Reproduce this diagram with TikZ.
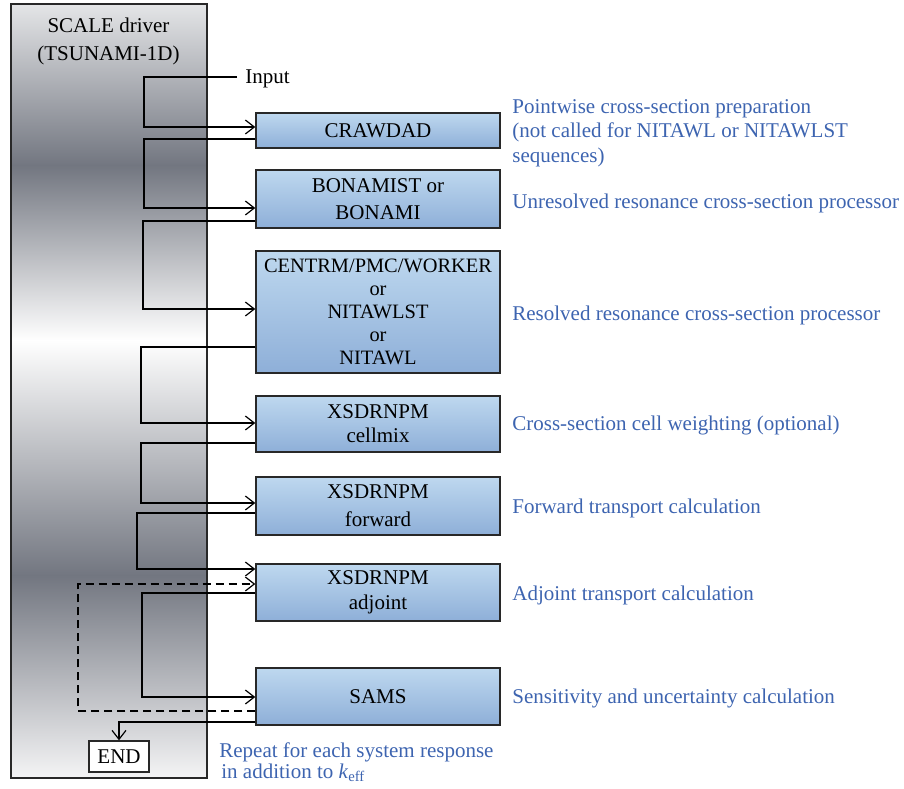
\documentclass[tikz,border=0pt]{standalone}
\usepackage{fontspec}
\setmainfont{Liberation Serif}
\usetikzlibrary{arrows.meta}
\definecolor{descblue}{RGB}{61,100,176}
\definecolor{boxtop}{RGB}{190,216,239}
\definecolor{boxbot}{RGB}{142,175,216}
\definecolor{drvdark}{RGB}{114,118,128}
\definecolor{drvtop}{RGB}{228,229,231}
\definecolor{drvbot}{RGB}{244,244,245}
\definecolor{edge}{RGB}{40,40,40}
\begin{document}
\begin{tikzpicture}[x=0.5pt,y=-0.5pt,
  stepbox/.style={draw=edge, line width=0.7pt, top color=boxtop, bottom color=boxbot,
    minimum width=122pt, inner sep=0pt, align=center},
  wire/.style={line width=0.6pt, draw=black},
  arr/.style={wire, -{Straight Barb[length=4.5pt,width=7pt,line width=0.6pt]}},
  desc/.style={anchor=base west, inner sep=0pt, text=descblue, font=\fontsize{10.5}{12}\selectfont},
  plain/.style={anchor=base, inner sep=0pt, font=\fontsize{10.5}{12}\selectfont}
]
\useasboundingbox (0,0) rectangle (904,788);

% driver background shading
\shade[top color=drvtop, bottom color=drvdark] (11,4) rectangle (207,166);
\shade[top color=drvdark, bottom color=white] (11,165) rectangle (207,341);
\shade[top color=white, bottom color=drvdark] (11,340) rectangle (207,576);
\shade[top color=drvdark, bottom color=drvbot] (11,575) rectangle (207,778);

\node[draw=edge, line width=0.7pt, minimum width=98pt, minimum height=387pt, inner sep=0pt] (driver) at (109,391) {};
\node[plain] (drv1) at (108.5,32) {SCALE driver};
\node[plain] (drv2) at (108.5,60) {(TSUNAMI-1D)};

% process boxes
\node[stepbox, minimum height=17.5pt, font=\fontsize{10.5}{12}\selectfont] (crawdad) at (378,130.5) {CRAWDAD};
\node[stepbox, minimum height=29pt, font=\fontsize{10.5}{13.5}\selectfont] (bon) at (378,199) {BONAMIST or\\BONAMI};
\node[stepbox, minimum height=61pt, font=\fontsize{10.2}{11.5}\selectfont] (centrm) at (378,312) {CENTRM/PMC/WORKER\\or\\NITAWLST\\or\\NITAWL};
\node[stepbox, minimum height=28pt, font=\fontsize{10.5}{12}\selectfont] (cellmix) at (378,424) {XSDRNPM\\cellmix};
\node[stepbox, minimum height=29pt, font=\fontsize{10.5}{14}\selectfont] (fwd) at (378,506) {XSDRNPM\\forward};
\node[stepbox, minimum height=28.5pt, font=\fontsize{10.5}{12.5}\selectfont] (adj) at (378,592.5) {XSDRNPM\\adjoint};
\node[stepbox, minimum height=28.5pt, font=\fontsize{10.5}{12}\selectfont] (sams) at (378,696.5) {SAMS};
\node[draw=edge, line width=0.7pt, fill=white, minimum width=30pt, minimum height=15.5pt, inner sep=0pt, font=\fontsize{10.5}{12}\selectfont] (endbox) at (119,756.5) {END};

% input
\node[anchor=base west, inner sep=0pt, font=\fontsize{10.5}{12}\selectfont] (input) at (245,83) {Input};
\coordinate (inEnd) at (237,77);

% connectors
\draw[arr] (inEnd) -- (144,77) |- (crawdad.west |- 0,127);
\draw[arr] (crawdad.west |- 0,139) -- (144,139) |- (bon.west |- 0,208);
\draw[arr] (bon.west |- 0,221) -- (143,221) |- (centrm.west |- 0,309);
\draw[arr] (centrm.west |- 0,347) -- (141,347) |- (cellmix.west |- 0,423);
\draw[arr] (cellmix.west |- 0,443) -- (141,443) |- (fwd.west |- 0,503);
\draw[arr] (fwd.west |- 0,513) -- (137,513) |- (adj.west |- 0,569);
\draw[arr, dash pattern=on 4pt off 2.5pt] (sams.west |- 0,711) -- (78,711) |- (adj.west |- 0,584);
\draw[arr] (adj.west |- 0,593) -- (142,593) |- (sams.west |- 0,697);
\draw[arr] (sams.west |- 0,722) -| (endbox.north);

% descriptions
\node[desc] (d1a) at (512,113) {Pointwise cross-section preparation};
\node[desc] (d1b) at (512,137) {(not called for NITAWL or NITAWLST};
\node[desc] (d1c) at (512,162) {sequences)};
\node[desc] (d2) at (512,208) {Unresolved resonance cross-section processor};
\node[desc] (d3) at (512,320) {Resolved resonance cross-section processor};
\node[desc] (d4) at (512,430) {Cross-section cell weighting (optional)};
\node[desc] (d5) at (512,513) {Forward transport calculation};
\node[desc] (d6) at (512,600) {Adjoint transport calculation};
\node[desc] (d7) at (512,703) {Sensitivity and uncertainty calculation};
\node[desc] (r1) at (219,757) {Repeat for each system response};
\node[desc] (r2) at (221,778) {in addition to \textit{k}\textsubscript{eff}};
\end{tikzpicture}
\end{document}
